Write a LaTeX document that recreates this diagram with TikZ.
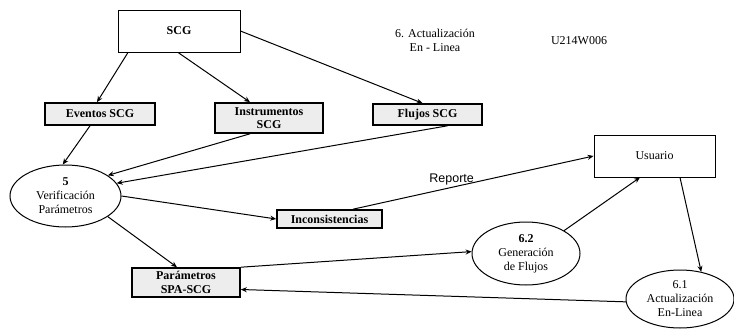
\documentclass[tikz,border=0pt]{standalone}
\usepackage{fontspec}
\setmainfont{Liberation Serif}
\newfontfamily\reportfont{Liberation Sans}
\usetikzlibrary{shapes.geometric,arrows.meta}

\tikzset{
  base/.style={font=\fontsize{12}{14}\selectfont, align=center, inner sep=1pt},
  plainbox/.style={base, draw, line width=0.9pt, rectangle},
  storebox/.style={base, draw, line width=1.6pt, rectangle, fill=gray!14,
                   font=\fontsize{12}{13.5}\selectfont\bfseries},
  proc/.style={base, draw, line width=1pt, ellipse, inner sep=0pt},
  flow/.style={line width=1pt, -{Stealth[length=6pt,width=5pt]}},
}

\begin{document}
\begin{tikzpicture}[x=1pt, y=-1pt]
  \useasboundingbox (0,0) rectangle (734,329);

  % external entities
  \node[plainbox, minimum width=122pt, minimum height=42pt, font=\fontsize{12}{14}\selectfont\bfseries] (scg) at (179,31) {SCG};
  \node[plainbox, minimum width=121pt, minimum height=42pt] (usuario) at (654.5,156) {Usuario};

  % headings
  \node[base] (titulo) at (435,40) {6. Actualización\\En - Linea};
  \node[base] (codigo) at (579,41) {U214W006};

  % data stores
  \node[storebox, minimum width=110pt, minimum height=22pt] (eventos) at (100,114) {Eventos SCG};
  \node[storebox, minimum width=108pt, minimum height=30pt] (instr) at (269,118) {Instrumentos\\SCG};
  \node[storebox, minimum width=109pt, minimum height=21pt] (flujos) at (427.5,114.5) {Flujos SCG};
  \node[storebox, minimum width=105pt, minimum height=18pt] (incons) at (329.5,219) {Inconsistencias};
  \node[storebox, minimum width=108pt, minimum height=29pt] (param) at (186,282.5) {Parámetros\\SPA-SCG};

  % processes
  \node[proc, minimum width=111pt, minimum height=62pt] (verif) at (65.5,196) {\textbf{5}\\Verificación\\Parámetros};
  \node[proc, minimum width=108pt, minimum height=63pt] (gen) at (526,253.5) {\textbf{6.2}\\Generación\\de Flujos};
  \node[proc, minimum width=108pt, minimum height=58pt] (act) at (680,299) {6.1\\Actualización\\En-Linea};

  % flows
  \draw[flow] ([xshift=-51pt]scg.south) -- ([xshift=-3pt]eventos.north);
  \draw[flow] ([xshift=-1pt]scg.south) -- ([xshift=-19pt]instr.north);
  \draw[flow] (scg.east) -- ([xshift=-5pt]flujos.north);
  \draw[flow] ([xshift=-10pt]eventos.south) -- (verif.95);
  \draw[flow] ([xshift=-19pt]instr.south) -- (verif.26);
  \draw[flow] ([xshift=20pt]flujos.south) -- (verif.14);
  \draw[flow] (verif.0) -- (incons.west);
  \draw[flow] (verif.-26) -- ([xshift=-9pt]param.north);
  \draw[flow] ([xshift=23.5pt]incons.north) -- (usuario.west)
    node[pos=0.41, above, inner sep=1.5pt, font=\reportfont\fontsize{12.5}{14}\selectfont] (reporte) {Reporte};
  \draw[flow] (param.north east) -- (gen.178);
  \draw[flow] (act.183) -- ([yshift=-7pt]param.east);
  \draw[flow] (gen.31) -- ([xshift=-14.5pt]usuario.south);
  \draw[flow] ([xshift=25.5pt]usuario.south) -- (act.52);
\end{tikzpicture}
\end{document}
